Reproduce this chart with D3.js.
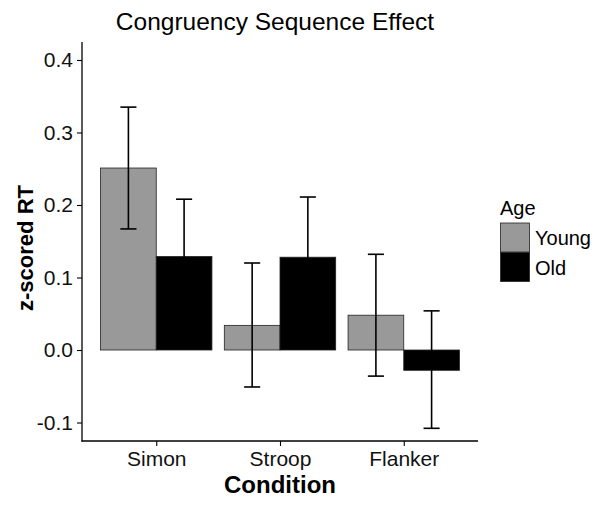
<!DOCTYPE html>
<html>
<head>
<meta charset="utf-8">
<script src="https://cdn.jsdelivr.net/npm/d3@7"></script>
<style>
  body { margin: 0; background: #fff; }
  text { font-family: "Liberation Sans", Arial, sans-serif; }
</style>
</head>
<body>
<svg id="chart" width="604" height="506"></svg>
<script>
// data
var conditions = ["Simon", "Stroop", "Flanker"];
var ages = ["Young", "Old"];
var youngMean = [0.251, 0.034, 0.048];
var youngLo   = [0.167, -0.051, -0.036];
var youngHi   = [0.335, 0.120, 0.132];
var oldMean   = [0.129, 0.128, -0.028];
var oldLo     = [0.051, 0.045, -0.108];
var oldHi     = [0.208, 0.211, 0.054];
var yTicks = [-0.1, 0.0, 0.1, 0.2, 0.3, 0.4];

function draw(){
	var rows = [];
	conditions.forEach(function(c, i){
		rows.push({cond: c, age: "Young", mean: youngMean[i], lo: youngLo[i], hi: youngHi[i]});
		rows.push({cond: c, age: "Old", mean: oldMean[i], lo: oldLo[i], hi: oldHi[i]});
	});

	var svg = d3.select("#chart");
	var pL = 82, pR = 478, pT = 42, pB = 441;
	var fill = d3.scaleOrdinal().domain(ages).range(["#999999", "#000000"]);

	// ggplot-style discrete axis: 0.6 expansion on both sides
	var step = (pR - pL) / (conditions.length - 1 + 1.2);
	var x = d3.scalePoint().domain(conditions)
		.range([pL + 0.6 * step, pR - 0.6 * step]);
	var sub = d3.scaleBand().domain(ages).range([-0.45 * step, 0.45 * step]).padding(0);
	var y = d3.scaleLinear().domain([-0.1255, 0.4248]).range([pB, pT]);

	// bars
	svg.selectAll("rect.bar")
		.data(rows)
		.enter()
		.append("rect")
		.attr("class", "bar")
		.attr("x", d => x(d.cond) + sub(d.age))
		.attr("width", sub.bandwidth())
		.attr("y", d => y(Math.max(0, d.mean)))
		.attr("height", d => Math.abs(y(d.mean) - y(0)))
		.style("fill", d => fill(d.age))
		.style("stroke", "#222")
		.style("stroke-width", 0.8);

	// error bars
	var ew = 0.065 * step;
	var eb = svg.selectAll("g.err")
		.data(rows)
		.enter()
		.append("g")
		.attr("class", "err")
		.attr("transform", d => "translate(" + (x(d.cond) + sub(d.age) + sub.bandwidth() / 2) + ",0)")
		.style("stroke", "#000")
		.style("stroke-width", 1.6);
	eb.append("line").attr("x1", 0).attr("x2", 0).attr("y1", d => y(d.lo)).attr("y2", d => y(d.hi));
	eb.append("line").attr("x1", -ew).attr("x2", ew).attr("y1", d => y(d.hi)).attr("y2", d => y(d.hi));
	eb.append("line").attr("x1", -ew).attr("x2", ew).attr("y1", d => y(d.lo)).attr("y2", d => y(d.lo));

	// axes (hyphen minus, like the R output)
	var fmt = d3.format(".1f");
	var yAxis = d3.axisLeft(y).tickValues(yTicks)
		.tickFormat(d => fmt(d).replace("\u2212", "-")).tickSize(5).tickPadding(4);
	var gy = svg.append("g").attr("transform", "translate(" + pL + ",0)").call(yAxis);
	var xAxis = d3.axisBottom(x).tickSize(5).tickPadding(5);
	var gx = svg.append("g").attr("transform", "translate(0," + pB + ")").call(xAxis);
	[gy, gx].forEach(function(g){
		g.select(".domain").remove();
		g.selectAll(".tick line").style("stroke", "#000").style("stroke-width", 1.1);
		g.selectAll(".tick text").style("font-size", "21px").style("fill", "#111")
			.style("font-family", "'Liberation Sans', Arial, sans-serif");
	});
	svg.append("line").attr("x1", pL).attr("x2", pL).attr("y1", pT).attr("y2", pB + 0.5)
		.style("stroke", "#000").style("stroke-width", 1.3);
	svg.append("line").attr("x1", pL - 0.5).attr("x2", pR).attr("y1", pB).attr("y2", pB)
		.style("stroke", "#000").style("stroke-width", 1.3);

	// titles
	svg.append("text").attr("x", 275).attr("y", 30).attr("text-anchor", "middle")
		.style("font-size", "24.5px").text("Congruency Sequence Effect");
	svg.append("text").attr("x", 280).attr("y", 493).attr("text-anchor", "middle")
		.style("font-size", "24px").style("font-weight", "bold").text("Condition");
	svg.append("text").attr("transform", "translate(33,248) rotate(-90)").attr("text-anchor", "middle")
		.style("font-size", "22px").style("font-weight", "bold").text("z-scored RT");

	// legend
	var lg = svg.append("g").attr("transform", "translate(500,0)");
	lg.append("text").attr("x", 0).attr("y", 215).style("font-size", "20px").text("Age");
	var items = lg.selectAll("g.item")
		.data(ages)
		.enter()
		.append("g")
		.attr("transform", (d, i) => "translate(0," + (223 + i * 29.5) + ")");
	items.append("rect").attr("x", 0.5).attr("y", 0).attr("width", 29).attr("height", 29)
		.style("fill", d => fill(d)).style("stroke", "#222").style("stroke-width", 0.8);
	items.append("text").attr("x", 35).attr("y", 22).style("font-size", "20px").text(d => d);
}

draw();
</script>
</body>
</html>
